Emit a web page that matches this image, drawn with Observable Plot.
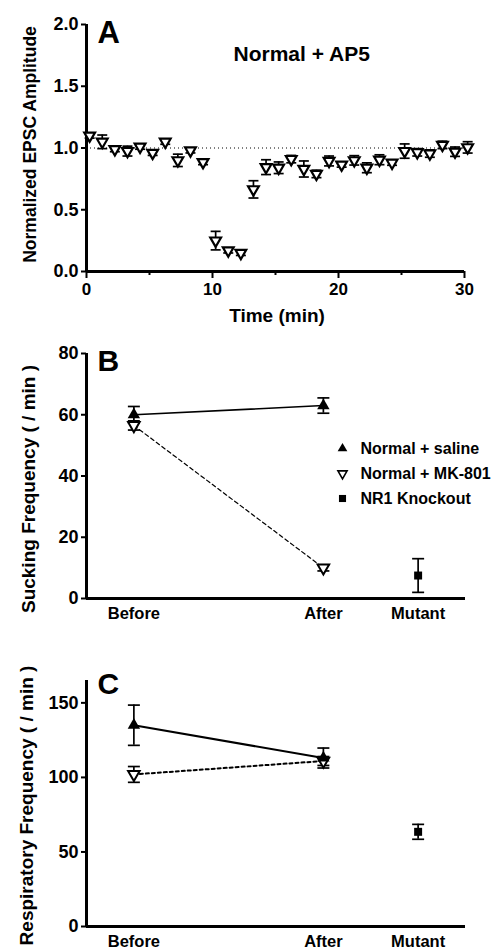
<!DOCTYPE html>
<html><head><meta charset="utf-8">
<script src="https://cdn.jsdelivr.net/npm/d3@7"></script>
<script src="https://cdn.jsdelivr.net/npm/@observablehq/plot@0.6"></script>
<style>
html,body{margin:0;padding:0;background:#fff;}
#chart svg{display:block;}
</style></head><body><div id="chart"></div>
<script>
// ---------- Panel A data ----------
const timeMin = [0.25,1.25,2.25,3.25,4.25,5.25,6.25,7.25,8.25,9.25,10.25,11.25,12.25,13.25,14.25,15.25,16.25,17.25,18.25,19.25,20.25,21.25,22.25,23.25,24.25,25.25,26.25,27.25,28.25,29.25,30.25];
const epscAmp = [1.10,1.05,0.99,0.975,1.01,0.96,1.05,0.90,0.98,0.885,0.25,0.17,0.15,0.665,0.845,0.84,0.91,0.83,0.79,0.895,0.865,0.90,0.84,0.905,0.88,0.975,0.965,0.955,1.025,0.97,1.005];
const epscErr = [0.02,0.055,0.02,0.04,0.02,0.02,0.02,0.05,0.02,0.02,0.075,0.02,0.02,0.07,0.06,0.047,0.03,0.065,0.03,0.04,0.02,0.038,0.04,0.04,0.02,0.058,0.03,0.03,0.03,0.038,0.046];
const ticksAy = [0, 0.5, 1.0, 1.5, 2.0];
const ticksAx = [0, 10, 20, 30];
const minorAx = [5, 15, 25];

// ---------- Panels B / C data ----------
const conditions = ["Before", "After", "Mutant"];
const groups = ["Normal + saline", "Normal + MK-801", "NR1 Knockout"];
const suckSaline = [60, 63];      const suckSalineErr = [2.7, 2.5];
const suckMK801 = [56.5, 10];     const suckMK801Err = [1.5, 1];
const suckKO = [7.5];             const suckKOErr = [5.5];
const respSaline = [135, 113];    const respSalineErr = [13.5, 6.7];
const respMK801 = [102, 111];     const respMK801Err = [5.3, 3];
const respKO = [63.5];            const respKOErr = [5];
const ticksBy = [0, 20, 40, 60, 80];
const ticksCy = [0, 50, 100, 150];

// ---------- layout ----------
const catPos = {Before: 1, After: 5, Mutant: 7};
const FONT = '"Liberation Sans", Arial, Helvetica, sans-serif';
const baseStyle = {fontFamily: FONT, fontWeight: "bold", fontSize: "17px", color: "black", background: "white", overflow: "visible"};
const cap = {draw(ctx, size) { const w = Math.sqrt(size / Math.PI); ctx.moveTo(-w, 0); ctx.lineTo(w, 0); }};

const dataA = timeMin.map((t, i) => ({t, v: epscAmp[i], e: epscErr[i]}));

function errMarks(data, x, capR, sw) {
  return [
    Plot.ruleX(data, {x, y1: d => d.v - d.e, y2: d => d.v + d.e, stroke: "black", strokeWidth: sw}),
    Plot.dot(data, {x, y: d => d.v + d.e, symbol: cap, r: capR, fill: "none", stroke: "black", strokeWidth: sw}),
    Plot.dot(data, {x, y: d => d.v - d.e, symbol: cap, r: capR, fill: "none", stroke: "black", strokeWidth: sw})
  ];
}

const chartA = Plot.plot({
  width: 493, height: 330, marginLeft: 86, marginRight: 29, marginTop: 24, marginBottom: 59,
  style: baseStyle,
  x: {domain: [0, 30]}, y: {domain: [0, 2]},
  marks: [
    Plot.ruleY([1], {stroke: "black", strokeWidth: 1, strokeDasharray: "1,3"}),
    Plot.axisY(ticksAy, {tickSize: 5, tickPadding: 3, tickFormat: d3.format(".1f"), strokeWidth: 2, fontSize: 18, label: null}),
    Plot.axisX(ticksAx, {tickSize: 7, tickPadding: 4, strokeWidth: 2, fontSize: 17, label: null}),
    Plot.axisX(minorAx, {tickSize: 4, tickFormat: () => "", strokeWidth: 2, label: null}),
    Plot.ruleX([0], {strokeWidth: 3}),
    Plot.ruleY([0], {strokeWidth: 3}),
    ...errMarks(dataA, "t", 5, 1.7),
    Plot.dot(dataA, {x: "t", y: "v", symbol: "triangle", rotate: 180, r: 4, fill: "white", stroke: "black", strokeWidth: 2.2}),
    Plot.text(["A"], {frameAnchor: "top-left", dx: 11, dy: -4, textAnchor: "start", lineAnchor: "top", fontSize: 31}),
    Plot.text(["Normal + AP5"], {frameAnchor: "top-left", dx: 147, dy: 22, textAnchor: "start", lineAnchor: "top", fontSize: 21}),
    Plot.text(["Normalized EPSC Amplitude"], {frameAnchor: "left", rotate: -90, textAnchor: "middle", lineAnchor: "middle", dx: -56.5, dy: -3.5, fontSize: 17.5}),
    Plot.text(["Time (min)"], {frameAnchor: "bottom", textAnchor: "middle", dx: 1.5, dy: 37, lineAnchor: "top", fontSize: 19})
  ]
});

function rows(vals, errs, conds, g) { return vals.map((v, i) => ({c: conds[i], x: catPos[conds[i]], v, e: errs[i], g})); }

function panel(opts) {
  const {letter, ylabel, yTicks, yDomain, height, marginTop, marginBottom, sal, mk, ko, legend, ylabDx, ylabDy, letterDy, mkDash, mkWidth, lineWidth} = opts;
  const marks = [
    Plot.axisY(yTicks, {tickSize: 5, tickPadding: 3, strokeWidth: 2, fontSize: 18, label: null}),
    Plot.axisX(conditions.map(c => catPos[c]), {tickSize: 0, tickPadding: 9, fontSize: 16.5, label: null,
      tickFormat: d => conditions.find(c => catPos[c] === d)}),
    Plot.ruleX([0], {strokeWidth: 3}),
    Plot.ruleY([0], {strokeWidth: 3}),
    Plot.line(sal, {x: "x", y: "v", stroke: "black", strokeWidth: lineWidth}),
    Plot.line(mk, {x: "x", y: "v", stroke: "black", strokeWidth: mkWidth, strokeDasharray: mkDash}),
    ...errMarks(sal, "x", 6, 1.7),
    ...errMarks(mk, "x", 6, 1.7),
    ...errMarks(ko, "x", 6, 1.7),
    Plot.dot(mk, {x: "x", y: "v", symbol: "triangle", rotate: 180, r: 4.3, fill: "white", stroke: "black", strokeWidth: 2}),
    Plot.dot(sal, {x: "x", y: "v", symbol: "triangle", r: 4.6, fill: "black"}),
    Plot.dot(ko, {x: "x", y: "v", symbol: "square", r: 4.5, fill: "black"}),
    Plot.text([letter], {frameAnchor: "top-left", dx: 11, dy: letterDy, textAnchor: "start", lineAnchor: "top", fontSize: 30}),
    Plot.text([ylabel], {frameAnchor: "left", rotate: -90, textAnchor: "middle", lineAnchor: "middle", dx: ylabDx, dy: ylabDy, fontSize: 19})
  ];
  if (legend) {
    const syms = [
      {symbol: "triangle", rotate: 0, fill: "black", stroke: "none", r: 3.6},
      {symbol: "triangle", rotate: 180, fill: "white", stroke: "black", r: 3.4},
      {symbol: "square", rotate: 0, fill: "black", stroke: "none", r: 4}
    ];
    groups.forEach((g, i) => {
      marks.push(Plot.dot([g], {frameAnchor: "top-left", dx: 256, dy: 95 + 25 * i, symbol: syms[i].symbol, rotate: syms[i].rotate, r: syms[i].r, fill: syms[i].fill, stroke: syms[i].stroke, strokeWidth: 1.6}));
      marks.push(Plot.text([g], {frameAnchor: "top-left", dx: 274, dy: 95 + 25 * i, textAnchor: "start", lineAnchor: "middle", fontSize: 16}));
    });
  }
  return Plot.plot({
    width: 493, height, marginLeft: 86, marginRight: 28, marginTop, marginBottom,
    style: baseStyle,
    x: {domain: [0, 8]}, y: {domain: yDomain},
    marks
  });
}

const chartB = panel({
  letter: "B", ylabel: "Sucking Frequency ( / min )", yTicks: ticksBy, yDomain: [0, 80],
  height: 300, marginTop: 23, marginBottom: 32,
  sal: rows(suckSaline, suckSalineErr, ["Before", "After"], groups[0]),
  mk: rows(suckMK801, suckMK801Err, ["Before", "After"], groups[1]),
  ko: rows(suckKO, suckKOErr, ["Mutant"], groups[2]),
  legend: true, ylabDx: -57.5, ylabDy: 13, letterDy: -4, mkDash: "4,3", mkWidth: 1.2, lineWidth: 1.6
});

const chartC = panel({
  letter: "C", ylabel: "Respiratory Frequency ( / min )", yTicks: ticksCy, yDomain: [0, 165],
  height: 319, marginTop: 50, marginBottom: 23,
  sal: rows(respSaline, respSalineErr, ["Before", "After"], groups[0]),
  mk: rows(respMK801, respMK801Err, ["Before", "After"], groups[1]),
  ko: rows(respKO, respKOErr, ["Mutant"], groups[2]),
  legend: false, ylabDx: -60, ylabDy: 2, letterDy: -8, mkDash: "3,3", mkWidth: 2, lineWidth: 2
});

const root = document.getElementById("chart");
root.append(chartA, chartB, chartC);
</script></body></html>
